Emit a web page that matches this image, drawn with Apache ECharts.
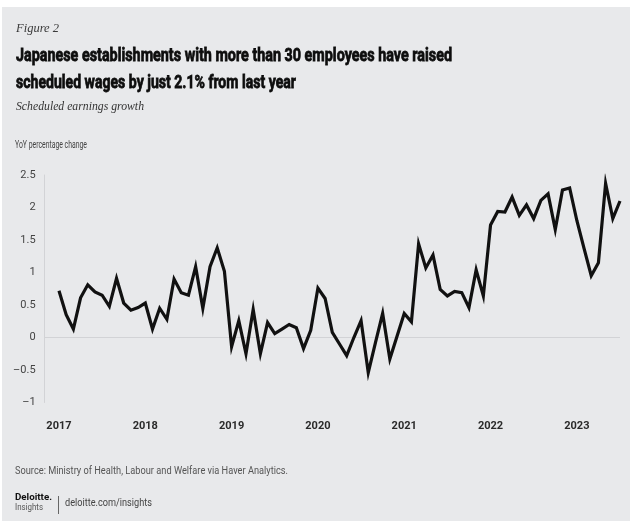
<!DOCTYPE html>
<html>
<head>
<meta charset="utf-8">
<script src="https://cdn.jsdelivr.net/npm/echarts@6/dist/echarts.min.js"></script>
<style>
  html, body { margin: 0; padding: 0; background: #ffffff; }
  #chart { width: 630px; height: 524px; }
</style>
</head>
<body>
<div id="chart"></div>
<script>
// Scheduled earnings, YoY % change, establishments with 30+ employees (monthly)
const years = [2017, 2018, 2019, 2020, 2021, 2022, 2023];
const leadMonths = ['2016-11', '2016-12'];   // empty padding before the first observation
const v2017 = [0.72, 0.35, 0.13, 0.61, 0.81, 0.70, 0.65, 0.48, 0.91, 0.53, 0.42, 0.46];
const v2018 = [0.53, 0.13, 0.45, 0.28, 0.90, 0.69, 0.65, 1.09, 0.45, 1.09, 1.38, 1.02];
const v2019 = [-0.14, 0.26, -0.25, 0.43, -0.25, 0.23, 0.06, 0.13, 0.20, 0.15, -0.17, 0.11];
const v2020 = [0.76, 0.60, 0.08, -0.10, -0.28, 0.00, 0.26, -0.54, -0.08, 0.37, -0.33, 0.02];
const v2021 = [0.37, 0.24, 1.44, 1.07, 1.27, 0.74, 0.64, 0.71, 0.69, 0.46, 1.04, 0.64];
const v2022 = [1.73, 1.94, 1.93, 2.16, 1.88, 2.04, 1.83, 2.11, 2.21, 1.66, 2.27, 2.30];
const v2023 = [1.80, 1.37, 0.95, 1.15, 2.37, 1.83, 2.1];
const yTicks = [-1, -0.5, 0, 0.5, 1, 1.5, 2, 2.5];

const series = [v2017, v2018, v2019, v2020, v2021, v2022, v2023];
const months = leadMonths.slice();
const values = leadMonths.map(() => null);
series.forEach((arr, i) => {
  arr.forEach((v, m) => {
    months.push(years[i] + '-' + String(m + 1).padStart(2, '0'));
    values.push(v);
  });
});

const BG = '#e8e9eb';
const SANS = 'Roboto, "Noto Sans", sans-serif';
const SERIF = '"Liberation Serif", "DejaVu Serif", serif';

// condensed look: horizontally squeeze a text run to a given width
const measurer = document.createElement('canvas').getContext('2d');
function squeeze(text, font, width) {
  measurer.font = font;
  return width / measurer.measureText(text).width;
}
function label(text, x, y, font, fill, width, heavy) {
  const style = { text: text, font: font, fill: fill, align: 'left', verticalAlign: 'middle' };
  if (heavy) { style.stroke = fill; style.lineWidth = heavy; }
  return {
    type: 'text', x: x, y: y, z: 10,
    scaleX: width ? squeeze(text, font, width) : 1,
    style: style
  };
}

const fTitle = 'bold 19px Roboto, Inter, sans-serif';
const fFig = 'italic 13px ' + SERIF;
const fSub = 'italic 13px ' + SERIF;
const fSmall = '11px ' + SANS;

const chart = echarts.init(document.getElementById('chart'), null, { renderer: 'canvas' });
chart.setOption({
  backgroundColor: '#ffffff',
  animation: false,
  graphic: [
    { type: 'rect', shape: { x: 2, y: 7, width: 628, height: 514 }, style: { fill: BG }, z: 0 },
    label('Figure 2', 16, 29, fFig, '#3a3a3a', 43),
    label('Japanese establishments with more than 30 employees have raised', 16, 56, fTitle, '#0d0d0d', 436, 0.8),
    label('scheduled wages by just 2.1% from last year', 16, 83, fTitle, '#0d0d0d', 280, 0.8),
    label('Scheduled earnings growth', 16, 107, fSub, '#333333', 128),
    label('YoY percentage change', 15, 145, '10px ' + SANS, '#444444', 72),
    label('Source: Ministry of Health, Labour and Welfare via Haver Analytics.', 15, 471, fSmall, '#555555', 273),
    label('Deloitte.', 15, 498, 'bold 9px ' + SANS, '#111111', 37),
    label('Insights', 15, 508, '9px ' + SANS, '#555555', 28),
    { type: 'line', shape: { x1: 58.5, y1: 496, x2: 58.5, y2: 514 }, style: { stroke: '#666666', lineWidth: 1 }, z: 10 },
    label('deloitte.com/insights', 65, 503.5, fSmall, '#444444', 87)
  ],
  grid: { left: 44.6, right: 10, top: 175, bottom: 121.5, containLabel: false },
  xAxis: {
    type: 'category',
    data: months,
    boundaryGap: false,
    axisLine: { show: false },
    axisTick: { show: false },
    splitLine: { show: false },
    axisLabel: {
      interval: (idx, val) => val.endsWith('-01'),
      formatter: (val) => val.slice(0, 4),
      margin: 18,
      fontFamily: SANS,
      fontSize: 11,
      fontWeight: 'bold',
      color: '#2a2a2a'
    }
  },
  yAxis: {
    type: 'value',
    min: yTicks[0],
    max: yTicks[yTicks.length - 1],
    interval: 0.5,
    axisLine: { show: true, lineStyle: { color: '#d2d3d6', width: 1 } },
    axisTick: { show: false },
    splitLine: { show: false },
    axisLabel: {
      margin: 9,
      fontFamily: SANS,
      fontSize: 11,
      color: '#444444',
      formatter: (v) => String(v).replace('-', '–')
    }
  },
  series: [{
    type: 'line',
    data: values,
    showSymbol: false,
    connectNulls: false,
    lineStyle: { color: '#111111', width: 3.2, join: 'miter' },
    markLine: {
      silent: true,
      symbol: 'none',
      label: { show: false },
      lineStyle: { color: '#d2d3d6', width: 1, type: 'solid' },
      data: [{ yAxis: 0 }],
      z: 1
    },
    z: 5
  }]
});
</script>
</body>
</html>
